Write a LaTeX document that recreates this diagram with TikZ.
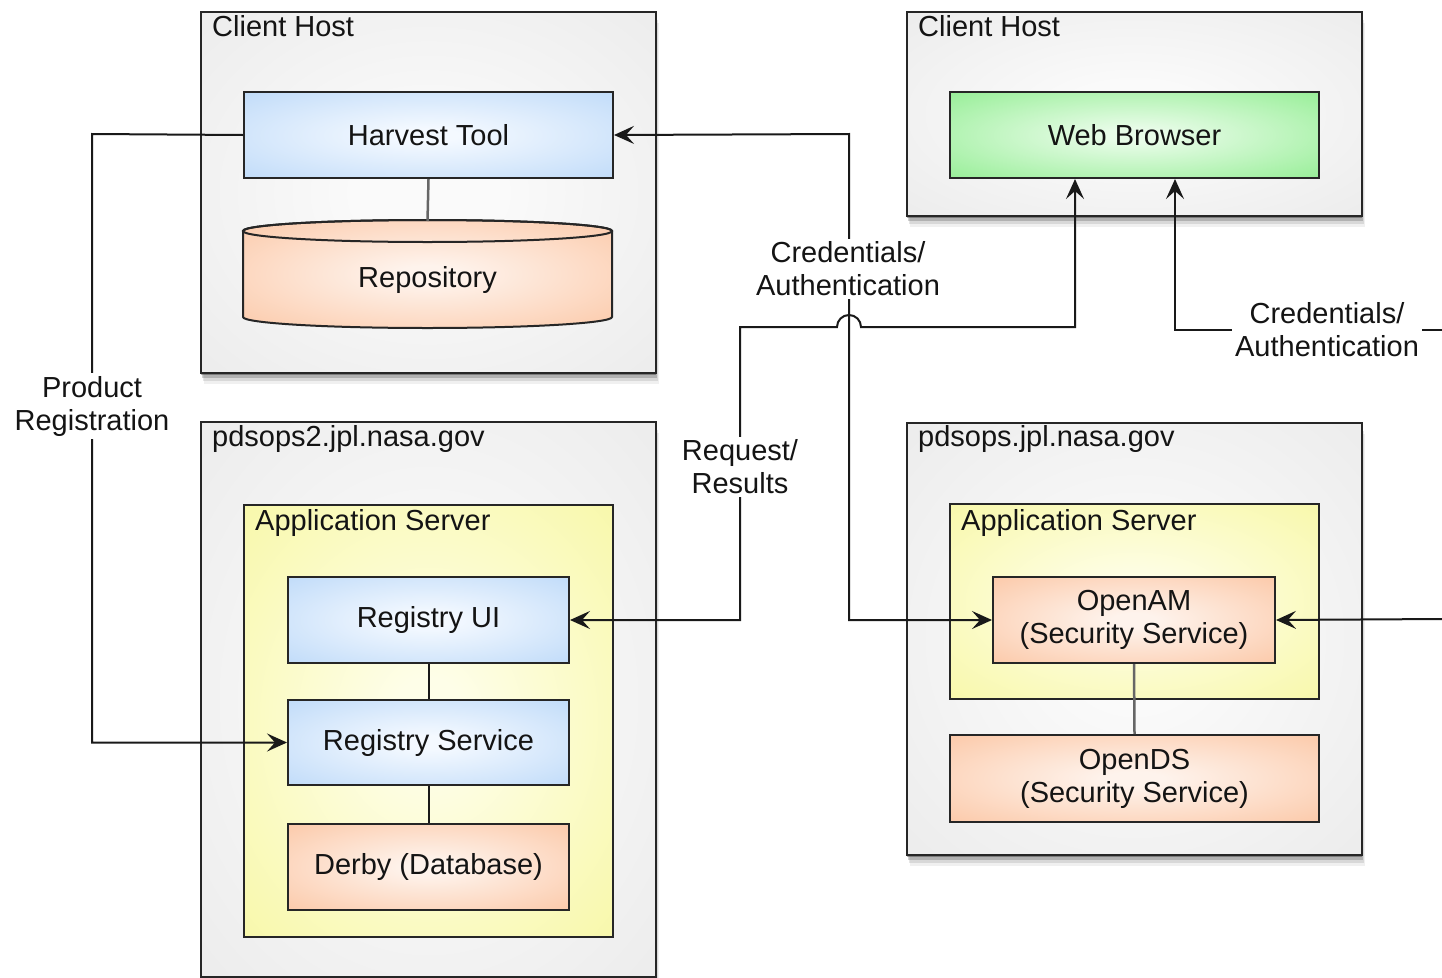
\documentclass[tikz,border=0pt]{standalone}
\usepackage{fontspec}
\setmainfont{Liberation Sans}
\usetikzlibrary{shadows,arrows.meta}
\definecolor{hostin}{RGB}{250,250,250}
\definecolor{hostout}{RGB}{230,230,230}
\definecolor{yelin}{RGB}{254,254,232}
\definecolor{yelout}{RGB}{246,246,150}
\definecolor{bluein}{RGB}{244,249,255}
\definecolor{blueout}{RGB}{176,210,247}
\definecolor{greenin}{RGB}{232,252,232}
\definecolor{greenout}{RGB}{125,234,125}
\definecolor{orgin}{RGB}{254,243,236}
\definecolor{orgout}{RGB}{251,188,148}
\pgfdeclareradialshading{hostsh}{\pgfpoint{0bp}{0bp}}{color(0bp)=(hostin); color(8bp)=(hostin); color(48bp)=(hostout); color(50bp)=(hostout)}
\pgfdeclareradialshading{yelsh}{\pgfpoint{0bp}{0bp}}{color(0bp)=(yelin); color(5bp)=(yelin); color(46bp)=(yelout); color(50bp)=(yelout)}
\pgfdeclareradialshading{bluesh}{\pgfpoint{0bp}{0bp}}{color(0bp)=(bluein); color(4bp)=(bluein); color(46bp)=(blueout); color(50bp)=(blueout)}
\pgfdeclareradialshading{greensh}{\pgfpoint{0bp}{0bp}}{color(0bp)=(greenin); color(4bp)=(greenin); color(46bp)=(greenout); color(50bp)=(greenout)}
\pgfdeclareradialshading{orgsh}{\pgfpoint{0bp}{0bp}}{color(0bp)=(orgin); color(4bp)=(orgin); color(46bp)=(orgout); color(50bp)=(orgout)}
\tikzset{
  boxbase/.style={draw=black!85, line width=2pt, anchor=north west, inner sep=0pt, align=center},
  hostbox/.style={boxbase, shading=hostsh,
    drop shadow={shadow xshift=0pt, shadow yshift=-2pt, opacity=.30, fill=black},
    drop shadow={shadow xshift=1pt, shadow yshift=-5pt, opacity=.18, fill=black},
    drop shadow={shadow xshift=2pt, shadow yshift=-8pt, opacity=.10, fill=black},
    drop shadow={shadow xshift=3pt, shadow yshift=-11pt, opacity=.06, fill=black}},
  appbox/.style={boxbase, shading=yelsh},
  bluebox/.style={boxbase, shading=bluesh},
  greenbox/.style={boxbase, shading=greensh},
  orgbox/.style={boxbase, shading=orgsh},
  titletext/.style={anchor=base west, inner sep=0pt},
  conn/.style={line width=2pt, draw=black!90},
  grayconn/.style={line width=2.5pt, draw=black!60},
  lbl/.style={fill=white, inner sep=3pt, align=center}
}
\begin{document}
\begin{tikzpicture}[x=1pt,y=-1pt,
  every node/.style={font=\fontsize{29}{33}\selectfont, text=black!92, align=center},
  >={Stealth[length=20pt,width=18pt,inset=8pt]}]
\useasboundingbox (0,0) rectangle (1442,977);

% host boxes
\node[hostbox, minimum width=455pt, minimum height=361pt] (ch1) at (200,11) {};
\node[hostbox, minimum width=455pt, minimum height=204pt] (ch2) at (906,11) {};
\node[hostbox, minimum width=455pt, minimum height=555pt] (pd2) at (200,421) {};
\node[hostbox, minimum width=455pt, minimum height=432pt] (pd1) at (906,422) {};

\node[titletext] (t1) at (212,36) {Client Host};
\node[titletext] (t2) at (918,36) {Client Host};
\node[titletext] (t3) at (212,446) {pdsops2.jpl.nasa.gov};
\node[titletext] (t4) at (918,446) {pdsops.jpl.nasa.gov};

% application servers
\node[appbox, minimum width=369pt, minimum height=432pt] (as1) at (243,504) {};
\node[appbox, minimum width=369pt, minimum height=195pt] (as2) at (949,503) {};
\node[titletext] (t5) at (255,530) {Application Server};
\node[titletext] (t6) at (961,530) {Application Server};

% components
\node[bluebox, minimum width=369pt, minimum height=86pt] (ht) at (243,91) {};
\node (htl) at (ht.center) {Harvest Tool};
\node[greenbox, minimum width=369pt, minimum height=86pt] (wb) at (949,91) {};
\node (wbl) at (wb.center) {Web Browser};
\node[bluebox, minimum width=281pt, minimum height=86pt] (rui) at (287,576) {};
\node (ruil) at (rui.center) {Registry UI};
\node[bluebox, minimum width=281pt, minimum height=85pt] (rs) at (287,699) {};
\node (rsl) at (rs.center) {Registry Service};
\node[orgbox, minimum width=281pt, minimum height=86pt] (db) at (287,823) {};
\node (dbl) at (db.center) {Derby (Database)};
\node[orgbox, minimum width=282pt, minimum height=86pt] (oam) at (992,576) {};
\node (oaml) at (oam.center) {OpenAM\\(Security Service)};
\node[orgbox, minimum width=369pt, minimum height=87pt] (ods) at (949,734) {};
\node (odsl) at (ods.center) {OpenDS\\(Security Service)};

% repository cylinder
\path[shading=orgsh, draw=black!85, line width=2pt]
  (243,231) -- (243,317) arc[start angle=180, end angle=0, x radius=184.5, y radius=11]
  -- (612,231) arc[start angle=0, end angle=-180, x radius=184.5, y radius=11] -- cycle;
\draw[draw=black!85, line width=2pt] (427.5,231) ellipse[x radius=184.5, y radius=11];
\node (repo) at (427.5,280) {Repository};
\coordinate (repotop) at (427.5,221);

% internal links
\draw[grayconn] (ht.south) -- (repotop);
\draw[grayconn] (oam.south) -- (ods.north);
\draw[conn] (rui.south) -- (rs.north);
\draw[conn] (rs.south) -- (db.north);

% connector corners
\coordinate (pr1) at (92,134);
\coordinate (cr1) at (849,134);
\coordinate (rq1) at (740,327);
\coordinate (hopa) at (837,327);
\coordinate (rq2) at (1075,327);
\coordinate (rc) at (1175,330);
\coordinate (re1) at (1442,330);
\coordinate (re2) at (1442,619);

% Product Registration
\draw[conn,->] (ht.west) -- (pr1) |- (rs.west);
% Credentials/Authentication (middle)
\draw[conn,<->] (ht.east) -- (cr1) |- (oam.west);
% Request/Results with hop
\draw[conn,<->] (rui.east) -| (rq1) -- (hopa)
  arc[start angle=180, end angle=360, radius=12] -- (rq2) -- (wb.south -| rq2);
% Credentials/Authentication (right)
\draw[conn,<-] (wb.south -| rc) -- (rc) -- (re1);
\draw[conn,<-] (oam.east) -- (re2);

% labels
\node[lbl] (l1) at (92,406) {Product\\Registration};
\node[lbl] (l2) at (848,269) {Credentials/\\Authentication};
\node[lbl] (l3) at (740,467) {Request/\\Results};
\node[lbl] (l4) at (1327,330) {Credentials/\\Authentication};
\end{tikzpicture}
\end{document}
